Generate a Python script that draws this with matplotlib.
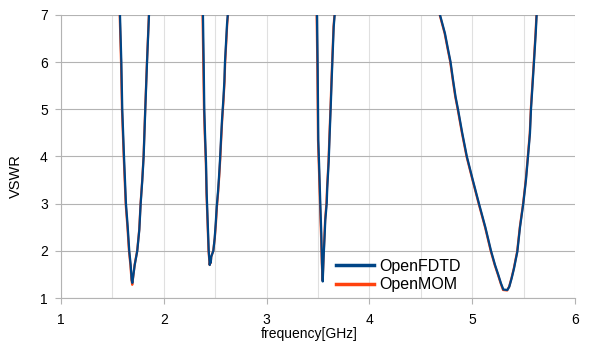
"""VSWR comparison plot: OpenFDTD vs OpenMOM"""
import matplotlib
matplotlib.use("Agg")
import matplotlib.pyplot as plt
from matplotlib.ticker import MultipleLocator

plt.rcParams['font.family'] = ['Liberation Sans', 'DejaVu Sans']

# OpenFDTD (frequency in GHz, VSWR)
fdtd_freq = [
    1.560, 1.574, 1.587, 1.596, 1.613, 1.632, 1.649, 1.664, 1.678, 1.688, 1.694,
    1.717, 1.742, 1.762, 1.775, 1.791, 1.804, 1.820, 1.837, 1.856, 1.870,
    2.370, 2.381, 2.388, 2.394, 2.401, 2.411, 2.417, 2.427, 2.437, 2.447, 2.452,
    2.457, 2.462, 2.482, 2.495, 2.505, 2.515, 2.527, 2.537, 2.547, 2.556, 2.566,
    2.579, 2.589, 2.595, 2.605, 2.615, 2.622, 2.635,
    3.480, 3.490, 3.497, 3.503, 3.513, 3.522, 3.532, 3.539, 3.546, 3.555, 3.565,
    3.571, 3.585, 3.590, 3.604, 3.614, 3.624, 3.633, 3.643, 3.653, 3.662, 3.675,
    4.570, 4.687, 4.735, 4.766, 4.789, 4.814, 4.838, 4.862, 4.903, 4.948, 5.006,
    5.066, 5.128, 5.183, 5.222, 5.254, 5.280, 5.303, 5.342, 5.361, 5.384, 5.407,
    5.426, 5.439, 5.465, 5.497, 5.523, 5.543, 5.562, 5.572, 5.588, 5.601, 5.618,
    5.627, 5.640,
]
fdtd_vswr = [
    8.0, 7.0, 6.0, 5.0, 4.0, 3.0, 2.51, 2.0, 1.70, 1.38, 1.32,
    1.70, 2.0, 2.45, 3.0, 3.5, 4.0, 5.0, 6.0, 7.0, 8.0,
    8.0, 7.0, 6.0, 5.0, 4.49, 3.86, 3.23, 2.62, 2.0, 1.70, 1.78,
    1.75, 1.88, 2.0, 2.27, 2.58, 2.94, 3.25, 3.57, 3.94, 4.35, 4.77,
    5.20, 5.59, 6.0, 6.40, 6.81, 7.0, 8.0,
    8.0, 7.0, 5.83, 4.35, 3.68, 3.04, 2.37, 1.74, 1.35, 1.88, 2.34,
    2.65, 3.01, 3.33, 3.89, 4.49, 5.06, 5.62, 6.19, 6.75, 7.0, 8.0,
    8.0, 7.0, 6.61, 6.26, 6.01, 5.62, 5.27, 5.0, 4.5, 4.0, 3.5,
    3.0, 2.5, 2.0, 1.70, 1.49, 1.31, 1.18, 1.17, 1.24, 1.42, 1.63,
    1.84, 1.98, 2.5, 3.0, 3.5, 4.0, 4.49, 5.0, 5.55, 6.0, 6.61,
    7.0, 8.0,
]

# OpenMOM (frequency in GHz, VSWR)
mom_freq = [
    1.557, 1.571, 1.584, 1.593, 1.610, 1.629, 1.646, 1.661, 1.675, 1.686, 1.693,
    1.716, 1.741, 1.761, 1.774, 1.790, 1.803, 1.819, 1.836, 1.855, 1.869,
    2.366, 2.377, 2.384, 2.391, 2.398, 2.409, 2.415, 2.425, 2.435, 2.446, 2.451,
    2.456, 2.461, 2.481, 2.496, 2.507, 2.517, 2.529, 2.539, 2.549, 2.558, 2.568,
    2.581, 2.591, 2.597, 2.607, 2.617, 2.624, 2.637,
    3.477, 3.487, 3.494, 3.500, 3.510, 3.519, 3.529, 3.537, 3.545, 3.554, 3.563,
    3.569, 3.582, 3.588, 3.602, 3.612, 3.622, 3.631, 3.641, 3.651, 3.660, 3.673,
    4.566, 4.684, 4.732, 4.763, 4.786, 4.811, 4.835, 4.859, 4.900, 4.945, 5.003,
    5.063, 5.125, 5.180, 5.219, 5.251, 5.277, 5.300, 5.340, 5.359, 5.382, 5.405,
    5.424, 5.437, 5.463, 5.495, 5.521, 5.541, 5.560, 5.570, 5.586, 5.599, 5.616,
    5.625, 5.638,
]
mom_vswr = [
    8.0, 7.0, 6.0, 5.0, 4.0, 3.0, 2.51, 2.0, 1.70, 1.38, 1.28,
    1.70, 2.0, 2.45, 3.0, 3.5, 4.0, 5.0, 6.0, 7.0, 8.0,
    8.0, 7.0, 6.0, 5.0, 4.49, 3.86, 3.23, 2.62, 2.0, 1.70, 1.77,
    1.74, 1.87, 2.0, 2.27, 2.58, 2.94, 3.25, 3.57, 3.94, 4.35, 4.77,
    5.20, 5.59, 6.0, 6.40, 6.81, 7.0, 8.0,
    8.0, 7.0, 5.83, 4.35, 3.68, 3.04, 2.37, 1.74, 1.37, 1.88, 2.34,
    2.65, 3.01, 3.33, 3.89, 4.49, 5.06, 5.62, 6.19, 6.75, 7.0, 8.0,
    8.0, 7.0, 6.61, 6.26, 6.01, 5.62, 5.27, 5.0, 4.5, 4.0, 3.5,
    3.0, 2.5, 2.0, 1.70, 1.49, 1.31, 1.17, 1.16, 1.24, 1.42, 1.63,
    1.84, 1.98, 2.5, 3.0, 3.5, 4.0, 4.49, 5.0, 5.55, 6.0, 6.61,
    7.0, 8.0,
]

W, H = 614, 345
fig = plt.figure(figsize=(W / 100, H / 100), dpi=100)
ax = fig.add_axes([61 / W, 1 - 298 / H, (575 - 61) / W, (298 - 15) / H])

# series (MOM underneath, FDTD on top)
l_mom, = ax.plot(mom_freq, mom_vswr, color="#ff420e", linewidth=1.6, zorder=3,
                 label="OpenMOM")
l_fdtd, = ax.plot(fdtd_freq, fdtd_vswr, color="#004586", linewidth=1.6, zorder=4,
                  label="OpenFDTD")

ax.set_xlim(1, 6)
ax.set_ylim(1, 7)
ax.xaxis.set_major_locator(MultipleLocator(1))
ax.xaxis.set_minor_locator(MultipleLocator(0.5))
ax.yaxis.set_major_locator(MultipleLocator(1))

# grid: horizontal at integers, vertical every 0.5
ax.grid(True, axis='y', which='major', color="#b3b3b3", linewidth=0.8)
ax.grid(True, axis='x', which='both', color="#e0e0e0", linewidth=0.8)
ax.set_axisbelow(True)

for side in ('top', 'right'):
    ax.spines[side].set_visible(False)
for side in ('left', 'bottom'):
    ax.spines[side].set_color("#b3b3b3")
    ax.spines[side].set_linewidth(0.8)

ax.tick_params(axis='both', which='major', colors="#b3b3b3", labelcolor="black",
               labelsize=10, width=0.8)
ax.tick_params(axis='y', length=4.5, pad=5)
ax.tick_params(axis='x', length=4, pad=7)
ax.tick_params(which='minor', length=0)

fig.text(16 / W, 1 - 176 / H, "VSWR", rotation=90, ha='center', va='center', fontsize=10.5)
fig.text(309 / W, 1 - 334 / H, "frequency[GHz]", ha='center', va='center', fontsize=10)

ax.legend([l_fdtd, l_mom], ["OpenFDTD", "OpenMOM"], loc='upper left',
          bbox_to_anchor=(336 / W, 1 - 259 / H), bbox_transform=fig.transFigure,
          frameon=False, fontsize=11.5, handlelength=2.4, handletextpad=0.3,
          labelspacing=0.2, borderpad=0, borderaxespad=0)
for line in ax.get_legend().get_lines():
    line.set_linewidth(2.5)

fig.savefig("out.png", dpi=100)
